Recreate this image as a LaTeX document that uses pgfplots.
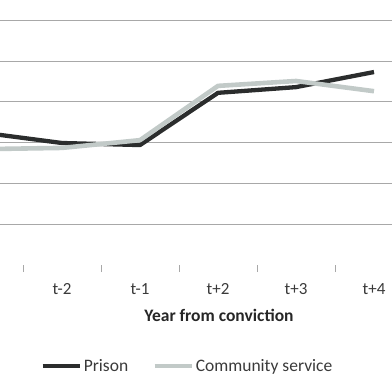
\documentclass[border=0pt]{standalone}
\usepackage{pgfplots}
\pgfplotsset{compat=1.18}
\usepackage{fontspec}
\setmainfont{Carlito}
\definecolor{prison}{HTML}{2B2D2D}
\definecolor{commserv}{HTML}{C2CAC8}
\definecolor{gridc}{HTML}{A8A8A8}
\definecolor{labc}{HTML}{3A3A3A}
\pgfplotstableread{
x prison comm
0 3.24 2.84
1 2.99 2.87
2 2.94 3.06
3 4.22 4.39
4 4.36 4.51
5 4.73 4.26
}\datatable
\begin{document}
\begin{tikzpicture}[x=1pt,y=1pt]
\useasboundingbox (0,0) rectangle (392,392);
\clip (0,0) rectangle (392,392);
\begin{axis}[
  scale only axis,
  width=468pt, height=265.2pt,
  at={(-55pt,127pt)}, anchor=south west,
  xmin=-0.5, xmax=5.5, ymin=0, ymax=6.5,
  axis line style={draw=none},
  xtick={1,...,5},
  xticklabels={t-2,t-1,t+2,t+3,t+4},
  major tick length=0pt,
  xticklabel style={font=\fontsize{17}{19}\selectfont, text=labc, yshift=-15pt},
  extra x ticks={0.5,1.5,2.5,3.5,4.5},
  extra x tick labels={},
  extra x tick style={tick align=outside, major tick length=7pt, tick style={gridc, line width=0.6pt}, grid=none},
  ytick={1,...,7},
  yticklabels={},
  ymajorgrids,
  grid style={gridc, line width=0.8pt},
  legend columns=2,
  legend style={draw=none, fill=none, at={(0.518,-0.381)}, anchor=center,
    font=\fontsize{17.5}{20}\selectfont, text=labc, inner sep=0pt,
    /tikz/every even column/.append style={column sep=22pt}},
  legend image code/.code={\draw[#1] (0pt,0pt) -- (37pt,0pt);},
]
\addplot[prison, line width=4.3pt, line join=round] table[x=x,y=prison] {\datatable};
\addlegendentry{Prison}
\addplot[commserv, line width=4.6pt, line join=round] table[x=x,y=comm] {\datatable};
\addlegendentry{Community service}
\end{axis}
\node[font=\bfseries\fontsize{17.5}{20}\selectfont, text=black!85] at (219,77) {Year from conviction};
\end{tikzpicture}
\end{document}
